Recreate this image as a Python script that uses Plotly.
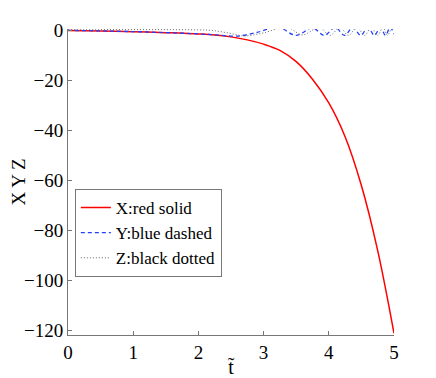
import plotly.graph_objects as go

# X: red solid
t_x = [0, 0.5, 1, 1.5, 2, 2.25, 2.5, 2.75, 3, 3.25, 3.5, 3.75, 4, 4.25, 4.5, 4.75, 5]
x_vals = [0, -0.2, -0.5, -0.9, -1.4, -1.8, -2.6, -3.8, -5.5, -8, -12.5, -19.5, -29, -42.5, -62, -88, -121]

# Y: blue dashed
t_y = [0, 0.5, 1, 1.5, 2, 2.3, 2.6, 2.9, 3.22, 3.5, 3.75, 3.93, 4.1, 4.24, 4.37, 4.49,
       4.6, 4.7, 4.79, 4.87, 4.94, 5.0]
y_vals = [0, -0.2, -0.5, -0.9, -1.4, -1.9, -2.3, -0.8, 1.3, -2.0, 1.0, -2.0, 1.2, -2.0, 1.2,
          -2.0, 1.2, -2.0, 1.2, -2.0, 1.2, -1.5]

# Z: black dotted
t_z = [0, 0.5, 1, 1.5, 2, 2.2, 2.45, 2.7, 3.0, 3.35, 3.6, 3.85, 4.02, 4.17, 4.3, 4.43,
       4.55, 4.65, 4.75, 4.83, 4.9, 4.97, 5.0]
z_vals = [0.3, 0.3, 0.3, 0.3, 0.2, 0.0, -1.0, -2.2, -1.0, 1.3, -1.8, 1.2, -2.0, 1.2, -2.0,
          1.2, -2.0, 1.2, -2.0, 1.2, -2.0, 1.2, 0.5]

font = "Liberation Serif"

fig = go.Figure()
fig.add_trace(go.Scatter(x=t_x, y=x_vals, mode="lines", name="X:red solid",
                         line=dict(color="#ff0000", width=1.5, shape="spline")))
fig.add_trace(go.Scatter(x=t_y, y=y_vals, mode="lines", name="Y:blue dashed",
                         line=dict(color="#2040ff", width=1.3, dash="4px,3px", shape="spline")))
fig.add_trace(go.Scatter(x=t_z, y=z_vals, mode="lines", name="Z:black dotted",
                         line=dict(color="#666666", width=1, dash="1px,2px", shape="spline")))

# page body has an 8px margin, so the figure is 8px smaller and shifted
fig.update_layout(
    width=428, height=370,
    margin=dict(l=60, r=42, t=21, b=43),
    paper_bgcolor="white", plot_bgcolor="white",
    font=dict(family=font, size=19, color="black"),
    legend=dict(x=0.021, y=0.477, xanchor="left", yanchor="top",
                bgcolor="white", bordercolor="#777777", borderwidth=1,
                font=dict(size=17), tracegroupgap=0),
)
fig.update_xaxes(range=[0, 5], tickvals=[0, 1, 2, 3, 4, 5],
                 showgrid=False, zeroline=False, showline=True, linecolor="#777777",
                 ticks="inside", ticklen=4, tickcolor="#777777", automargin=False,
                 title=dict(text="t\u0303", standoff=0, font=dict(size=20)))
fig.update_yaxes(range=[-121.7, 0.55], tickvals=[0, -20, -40, -60, -80, -100, -120],
                 showgrid=False, zeroline=False, showline=True, linecolor="#777777",
                 ticks="inside", ticklen=4, tickcolor="#777777", automargin=False,
                 title=dict(text="X Y Z", standoff=6, font=dict(size=19)))

fig.write_html("out.html")
